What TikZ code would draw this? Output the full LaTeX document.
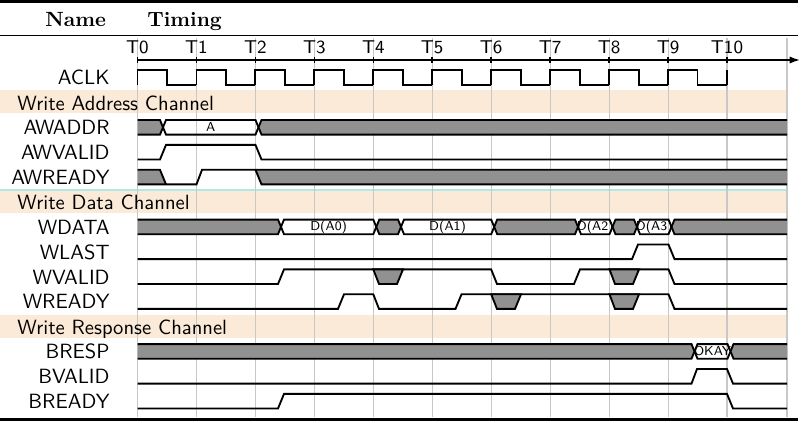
\documentclass[tikz,border=0pt]{standalone}
\usetikzlibrary{arrows.meta}

\definecolor{bandcol}{RGB}{250,234,215}
\definecolor{ucol}{RGB}{145,145,145}
\definecolor{gridcol}{RGB}{200,200,200}
\definecolor{seamcol}{RGB}{175,235,228}

\newcommand{\sighi}{-7.3}
\newcommand{\siglo}{7.3}

\tikzset{
  sig/.style={line width=0.9pt},
  ufill/.style={fill=ucol},
  gridline/.style={draw=gridcol,line width=0.5pt},
  band/.style={fill=bandcol},
  axisline/.style={line width=0.75pt},
  lbl/.style={font=\sffamily,anchor=base east,inner sep=0pt},
  chan/.style={font=\sffamily,anchor=base west,inner sep=0pt},
  val/.style={font=\sffamily\fontsize{6.3}{7}\selectfont,inner sep=0pt},
  ticklbl/.style={font=\sffamily\small,anchor=base,inner sep=0pt},
  head/.style={font=\bfseries,anchor=base west,inner sep=0pt}
}

\begin{document}
\begin{tikzpicture}[x=0.4855pt,y=-0.4855pt]
\useasboundingbox (0,0) rectangle (802,422);

% row backgrounds
\fill[band] (0,90) rectangle (787,113);
\fill[band] (0,190) rectangle (787,213);
\fill[band] (0,315) rectangle (787,338);
\draw[seamcol,line width=0.5pt] (0,190) -- (787,190);

% grid
\foreach \i in {0,...,10}
  \draw[gridline] ({137.5+58.95*\i},38) -- ({137.5+58.95*\i},417);
\draw[gridline] (787,38) -- (787,417);

% rules
\draw[line width=1.2pt] (0,1.3) -- (798,1.3);
\draw[line width=0.5pt] (0,35.7) -- (798,35.7);
\draw[line width=1.2pt] (0,419.5) -- (798,419.5);

% header
\node[head] (name) at (45,26) {Name};
\node[head] (timing) at (147,26) {Timing};

% time axis
\coordinate (t0) at (137.5,60);
\coordinate (tend) at (800,60);
\draw[axisline,-{Latex[length=5pt,width=3.5pt]}] (t0) -- (tend);
\foreach \i in {0,...,10} {
  \draw[axisline] ({137.5+58.95*\i},57) -- ({137.5+58.95*\i},63);
  \node[ticklbl] (T\i) at ({137.5+58.95*\i},53.3) {T\i};
}

% signal names
\node[lbl] (aclk) at (110,84.8) {ACLK};
\node[chan] (wach) at (17,110.5) {Write Address Channel};
\node[lbl] (awaddr) at (110,134.6) {AWADDR};
\node[lbl] (awvalid) at (110,159.5) {AWVALID};
\node[lbl] (awready) at (110,184.4) {AWREADY};
\node[chan] (wdch) at (17,209.5) {Write Data Channel};
\node[lbl] (wdata) at (110,234.2) {WDATA};
\node[lbl] (wlast) at (110,259.1) {WLAST};
\node[lbl] (wvalid) at (110,284) {WVALID};
\node[lbl] (wready) at (110,308.9) {WREADY};
\node[chan] (wrch) at (17,334.8) {Write Response Channel};
\node[lbl] (bresp) at (110,358.7) {BRESP};
\node[lbl] (bvalid) at (110,383.6) {BVALID};
\node[lbl] (bready) at (110,408.5) {BREADY};

% ACLK
\begin{scope}[shift={(0,77.5)}]
\foreach \i in {0,...,9} {
  \pgfmathsetmacro\ta{137.5+58.95*\i}
  \draw[sig] (\ta,\siglo) -- (\ta,\sighi) -- ({\ta+29.475},\sighi) -- ({\ta+29.475},\siglo) -- ({\ta+58.95},\siglo);
}
\draw[sig] (727,\siglo) -- (727,\sighi);
\end{scope}

% AWADDR
\begin{scope}[shift={(0,127.3)}]
\fill[ufill] (137.5,\sighi) -- (160,\sighi) -- (163,0) -- (160,\siglo) -- (137.5,\siglo) -- cycle;
\draw[sig] (137.5,\sighi) -- (160,\sighi) -- (163,0) -- (160,\siglo) -- (137.5,\siglo);
\draw[sig] (163,0) -- (166,\sighi) -- (255.5,\sighi) -- (258.5,0) -- (255.5,\siglo) -- (166,\siglo) -- cycle;
\node[val] (addra) at (210.75,0) {A};
\fill[ufill] (258.5,0) -- (261.5,\sighi) -- (787,\sighi) -- (787,\siglo) -- (261.5,\siglo) -- cycle;
\draw[sig] (787,\sighi) -- (261.5,\sighi) -- (258.5,0) -- (261.5,\siglo) -- (787,\siglo);
\end{scope}

% AWVALID
\begin{scope}[shift={(0,152.2)}]
\draw[sig] (137.5,\siglo) -- (160,\siglo) -- (166,\sighi) -- (255.5,\sighi) -- (261.5,\siglo) -- (787,\siglo);
\end{scope}

% AWREADY
\begin{scope}[shift={(0,177.1)}]
\fill[ufill] (137.5,\sighi) -- (160,\sighi) -- (166,\siglo) -- (137.5,\siglo) -- cycle;
\fill[ufill] (255.5,\sighi) -- (787,\sighi) -- (787,\siglo) -- (261.5,\siglo) -- cycle;
\draw[sig] (137.5,\sighi) -- (160,\sighi) -- (166,\siglo);
\draw[sig] (137.5,\siglo) -- (196.5,\siglo) -- (202,\sighi) -- (787,\sighi);
\draw[sig] (255.5,\sighi) -- (261.5,\siglo) -- (787,\siglo);
\end{scope}

% WDATA
\begin{scope}[shift={(0,226.9)}]
\fill[ufill] (137.5,\sighi) -- (278,\sighi) -- (281,0) -- (278,\siglo) -- (137.5,\siglo) -- cycle;
\draw[sig] (137.5,\sighi) -- (278,\sighi) -- (281,0) -- (278,\siglo) -- (137.5,\siglo);
\foreach \a/\b/\c in {278/373.3/none, 373.3/398/ucol, 398/491.2/none, 491.2/575/ucol,
                      575/609.5/none, 609.5/634/ucol, 634/668.5/none}
  \filldraw[sig,fill=\c] ({\a+3},0) -- ({\a+6},\sighi) -- (\b,\sighi) -- ({\b+3},0) -- (\b,\siglo) -- ({\a+6},\siglo) -- cycle;
\fill[ufill] (671.5,0) -- (674.5,\sighi) -- (787,\sighi) -- (787,\siglo) -- (674.5,\siglo) -- cycle;
\draw[sig] (787,\sighi) -- (674.5,\sighi) -- (671.5,0) -- (674.5,\siglo) -- (787,\siglo);
\node[val] (da0) at (328.65,0) {D(A0)};
\node[val] (da1) at (447.6,0) {D(A1)};
\node[val] (da2) at (595.25,0) {D(A2)};
\node[val] (da3) at (654.25,0) {D(A3)};
\end{scope}

% WLAST
\begin{scope}[shift={(0,251.8)}]
\draw[sig] (137.5,\siglo) -- (632,\siglo) -- (638,\sighi) -- (668.5,\sighi) -- (674.5,\siglo) -- (787,\siglo);
\end{scope}

% WVALID
\begin{scope}[shift={(0,276.7)}]
\draw[sig] (137.5,\siglo) -- (278,\siglo) -- (284,\sighi) -- (491.2,\sighi) -- (497,\siglo) -- (574,\siglo) -- (580,\sighi) -- (668.5,\sighi) -- (674.5,\siglo) -- (787,\siglo);
\filldraw[sig,fill=ucol] (373.3,\sighi) -- (379,\siglo) -- (397,\siglo) -- (403,\sighi) -- cycle;
\filldraw[sig,fill=ucol] (609.5,\sighi) -- (615,\siglo) -- (633,\siglo) -- (639,\sighi) -- cycle;
\end{scope}

% WREADY
\begin{scope}[shift={(0,301.6)}]
\draw[sig] (137.5,\siglo) -- (338,\siglo) -- (344,\sighi) -- (373.3,\sighi) -- (379,\siglo) -- (455.5,\siglo) -- (461.5,\sighi) -- (668.5,\sighi) -- (674.5,\siglo) -- (787,\siglo);
\filldraw[sig,fill=ucol] (491.2,\sighi) -- (497,\siglo) -- (515,\siglo) -- (521,\sighi) -- cycle;
\filldraw[sig,fill=ucol] (609.5,\sighi) -- (615,\siglo) -- (633,\siglo) -- (639,\sighi) -- cycle;
\end{scope}

% BRESP
\begin{scope}[shift={(0,351.4)}]
\fill[ufill] (137.5,\sighi) -- (691.5,\sighi) -- (694.5,0) -- (691.5,\siglo) -- (137.5,\siglo) -- cycle;
\draw[sig] (137.5,\sighi) -- (691.5,\sighi) -- (694.5,0) -- (691.5,\siglo) -- (137.5,\siglo);
\draw[sig] (694.5,0) -- (697.5,\sighi) -- (727.5,\sighi) -- (730.5,0) -- (727.5,\siglo) -- (697.5,\siglo) -- cycle;
\node[val] (okay) at (712.5,0) {OKAY};
\fill[ufill] (730.5,0) -- (733.5,\sighi) -- (787,\sighi) -- (787,\siglo) -- (733.5,\siglo) -- cycle;
\draw[sig] (787,\sighi) -- (733.5,\sighi) -- (730.5,0) -- (733.5,\siglo) -- (787,\siglo);
\end{scope}

% BVALID
\begin{scope}[shift={(0,376.3)}]
\draw[sig] (137.5,\siglo) -- (691.5,\siglo) -- (697,\sighi) -- (727,\sighi) -- (733,\siglo) -- (787,\siglo);
\end{scope}

% BREADY
\begin{scope}[shift={(0,401.2)}]
\draw[sig] (137.5,\siglo) -- (278,\siglo) -- (284,\sighi) -- (727,\sighi) -- (733,\siglo) -- (787,\siglo);
\end{scope}
\end{tikzpicture}
\end{document}
